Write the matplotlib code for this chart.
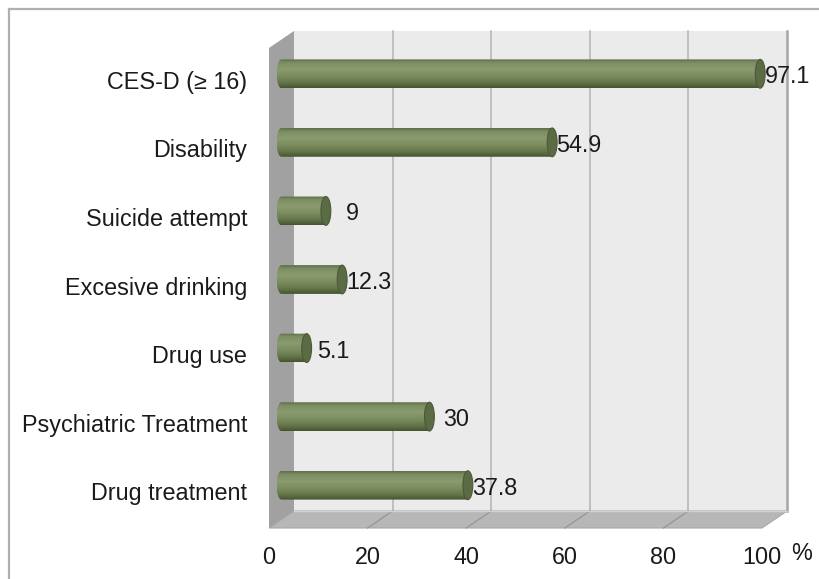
import numpy as np
import matplotlib

matplotlib.use("Agg")
import matplotlib.pyplot as plt
from matplotlib.colors import LinearSegmentedColormap
from matplotlib.patches import Ellipse, PathPatch, Polygon
from matplotlib.path import Path
from matplotlib.transforms import IdentityTransform, offset_copy

CATEGORIES = [
    "CES-D (\u2265 16)",
    "Disability",
    "Suicide attempt",
    "Excesive drinking",
    "Drug use",
    "Psychiatric Treatment",
    "Drug treatment",
]
VALUES = [97.1, 54.9, 9, 12.3, 5.1, 30, 37.8]
VALUE_LABELS = ["97.1", "54.9", "9", "12.3", "5.1", "30", "37.8"]
X_TICKS = [0, 20, 40, 60, 80, 100]

DEPTH_X = 12.5  # half depth offset, pixels
DEPTH_Y = 8.5
BAR_HEIGHT = 0.42
CAP_HALF = 1.0  # half width of cylinder end, in value units
FONT = "Liberation Sans"
FS = 16.8

plt.rcParams["font.family"] = [FONT, "DejaVu Sans"]

fig = plt.figure(figsize=(8.19, 5.79), dpi=100)
W, H = 819, 579
ax = fig.add_axes([281.5 / W, (H - 519.5) / H, 493 / W, 480 / H])
ax.set_axis_off()

n = len(CATEGORIES)
y_lo, y_hi = -0.5, n - 0.5
x_max = X_TICKS[-1]
ax.set_xlim(0, x_max)
ax.set_ylim(y_hi, y_lo)

back = offset_copy(ax.transData, fig=fig, x=DEPTH_X, y=DEPTH_Y, units="dots")
front = offset_copy(ax.transData, fig=fig, x=-DEPTH_X, y=-DEPTH_Y, units="dots")
pix = IdentityTransform()


def between(x0, x1, y):
    # parallelogram from back plane to front plane, in pixels
    return [back.transform((x0, y)), back.transform((x1, y)),
            front.transform((x1, y)), front.transform((x0, y))]


# back wall
ax.add_patch(Polygon([(0, y_lo), (x_max, y_lo), (x_max, y_hi), (0, y_hi)],
                     closed=True, transform=back, facecolor="#ebebeb",
                     edgecolor="none", zorder=0, clip_on=False))
for t in X_TICKS[1:-1]:
    ax.plot([t, t], [y_lo, y_hi], transform=back, color="#b3b3b3", lw=1.1,
            zorder=1, clip_on=False)
ax.plot([x_max, x_max], [y_lo, y_hi], transform=back, color="#a5a5a5", lw=1.8,
        zorder=1, clip_on=False)

# floor
ax.add_patch(Polygon(between(0, x_max, y_hi), closed=True, transform=pix,
                     facecolor="#b7b7b7", edgecolor="#a8a8a8", lw=0.8,
                     zorder=1, clip_on=False))
for t in X_TICKS[1:-1]:
    p0 = back.transform((t, y_hi))
    p1 = front.transform((t, y_hi))
    ax.add_line(plt.Line2D([p0[0], p1[0]], [p0[1], p1[1]], transform=pix,
                           color="#969696", lw=0.9, zorder=1, clip_on=False))
ax.plot([0, x_max], [y_hi, y_hi], transform=back, color="#d2d2d2", lw=1.0,
        zorder=1, clip_on=False)

# left wall
wall_pts = [back.transform((0, y_lo)), back.transform((0, y_hi)),
            front.transform((0, y_hi)), front.transform((0, y_lo))]
ax.add_patch(Polygon(wall_pts, closed=True, transform=pix, facecolor="#a1a1a1",
                     edgecolor="none", zorder=2, clip_on=False))

# cylinders
cyl = LinearSegmentedColormap.from_list(
    "cyl",
    [(0.0, "#5f6f4a"), (0.12, "#7d8f62"), (0.35, "#8a9b6f"),
     (0.6, "#7a8c5e"), (0.82, "#647549"), (1.0, "#46552f")],
)
grad = np.linspace(0, 1, 64).reshape(-1, 1)
theta = np.linspace(0, np.pi, 40)
for i, v in enumerate(VALUES):
    h2 = BAR_HEIGHT / 2
    pts = [(0, i - h2), (v, i - h2), (v, i + h2), (0, i + h2)]
    pts += [(-CAP_HALF * np.sin(t), i + h2 * np.cos(t)) for t in theta]
    clip = PathPatch(Path(pts), transform=ax.transData,
                     facecolor="none", edgecolor="none")
    im = ax.imshow(grad, extent=[-CAP_HALF, v, i + h2, i - h2], aspect="auto",
                   cmap=cyl, interpolation="bilinear", zorder=3)
    im.set_clip_box(fig.bbox)
    im.set_clip_path(clip)
    ax.add_patch(Ellipse((v, i), 2 * CAP_HALF, BAR_HEIGHT, facecolor="#5b6b44",
                         edgecolor="#4b5937", lw=0.8, zorder=4, clip_on=False))

# value labels
val_tr = offset_copy(ax.transData, fig=fig, x=27, y=-3, units="dots")
for i, (v, s) in enumerate(zip(VALUES, VALUE_LABELS)):
    ax.text(v, i, s, transform=val_tr, ha="center", va="center", fontsize=FS,
            color="#1a1a1a", zorder=5, clip_on=False)

# category labels
cat_tr = offset_copy(front, fig=fig, x=-22, y=0, units="dots")
for i, name in enumerate(CATEGORIES):
    ax.text(0, i, name, transform=cat_tr, ha="right", va="center", fontsize=FS,
            color="#1a1a1a", clip_on=False)

# x tick labels
tick_tr = offset_copy(front, fig=fig, x=0, y=-29, units="dots")
for t in X_TICKS:
    ax.text(t, y_hi, str(t), transform=tick_tr, ha="center", va="center",
            fontsize=FS, color="#1a1a1a", clip_on=False)
pct_tr = offset_copy(front, fig=fig, x=40, y=-25, units="dots")
ax.text(x_max, y_hi, "%", transform=pct_tr, ha="center", va="center",
        fontsize=FS, color="#1a1a1a", clip_on=False)

ax.set_xlim(0, x_max)
ax.set_ylim(y_hi, y_lo)

# chart area border (cropped at right and bottom)
fig.add_artist(plt.Line2D([8.5 / W, 8.5 / W], [0, 1 - 9 / H], color="#b0b0b0",
                          lw=1.6, transform=fig.transFigure))
fig.add_artist(plt.Line2D([8.5 / W, 1], [1 - 9 / H, 1 - 9 / H], color="#b0b0b0",
                          lw=1.6, transform=fig.transFigure))

fig.savefig("out.png", dpi=100)
